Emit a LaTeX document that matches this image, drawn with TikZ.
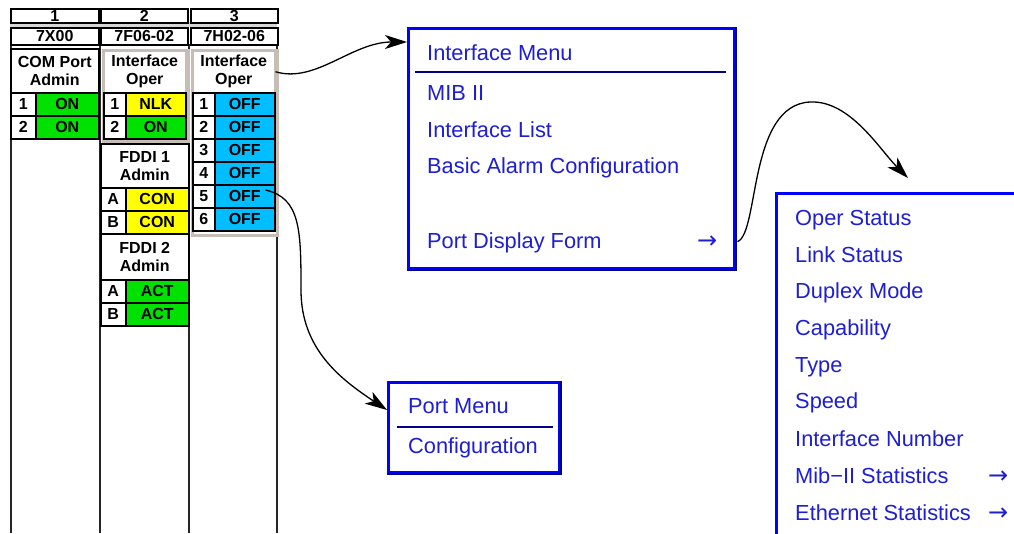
\documentclass[tikz,border=0pt]{standalone}
\usepackage{fontspec}
\setmainfont{Liberation Sans}
\newfontfamily\arrowfont{DejaVu Sans}
\usetikzlibrary{arrows.meta,calc}
\definecolor{onGreen}{RGB}{0,225,0}
\definecolor{lkYellow}{RGB}{255,255,0}
\definecolor{offBlue}{RGB}{0,190,255}
\definecolor{bevel}{RGB}{198,190,182}
\definecolor{menuBlue}{RGB}{0,0,255}
\definecolor{menuNavy}{RGB}{0,0,140}
\definecolor{menuText}{RGB}{30,30,210}
\definecolor{hdrGray}{RGB}{215,215,215}

% one port row: name, x, y, number width, status width, number, status, fill
\newcommand\prow[8]{%
  \node[tbl, minimum width=#4pt, minimum height=23pt] (#1n) at (#2,#3) {#6};
  \node[tbl, fill=#8, minimum width=#5pt, minimum height=23pt] (#1s) at ({#2+#4},#3) {#7};
}

\begin{document}
\begin{tikzpicture}[x=1pt,y=-1pt,
  tbl/.style={draw=black, line width=1.5pt, fill=white, inner sep=0pt, anchor=north west,
    align=center, font=\fontsize{16}{18}\selectfont\bfseries},
  bevelbox/.style={draw=bevel, line width=3pt, fill=white, inner sep=0pt, anchor=north west},
  menubox/.style={draw=menuBlue, line width=3pt, fill=white, inner sep=0pt, anchor=north west},
  mitem/.style={anchor=base west, inner sep=0pt, text=menuText, font=\fontsize{21.8}{24}\selectfont},
  marrow/.style={anchor=base west, inner sep=0pt, text=menuText, font=\arrowfont\fontsize{24}{26}\selectfont},
  conn/.style={line width=1.3pt, -{Stealth[length=22pt,width=14pt,inset=6pt]}},
  colline/.style={line width=1.5pt, draw=black!85},
]
\useasboundingbox (0,0) rectangle (1014,533);
\clip (0,0) rectangle (1014,533);
\fill[white] (0,0) rectangle (1014,533);

% ---- status table ----
\fill[hdrGray] (10,22) rectangle (277,27);
\draw[colline] (11,44) -- (11,533);
\draw[colline] (100,44) -- (100,533);
\draw[colline] (189,44) -- (189,533);
\draw[colline] (277,44) -- (277,533);

\node[tbl, minimum width=88pt, minimum height=14pt] (h1) at (10,8) {1};
\node[tbl, minimum width=87pt, minimum height=14pt] (h2) at (100,8) {2};
\node[tbl, minimum width=87pt, minimum height=14pt] (h3) at (190,8) {3};
\node[tbl, minimum width=88pt, minimum height=17pt] (m1) at (10,27) {7X00};
\node[tbl, minimum width=87pt, minimum height=17pt] (m2) at (100,27) {7F06-02};
\node[tbl, minimum width=87pt, minimum height=17pt] (m3) at (190,27) {7H02-06};

% slot 1
\node[tbl, minimum width=88pt, minimum height=44pt] (t1) at (10,48) {COM Port\\Admin};
\prow{a1}{10}{92}{25}{63}{1}{ON}{onGreen}
\prow{a2}{10}{115}{25}{63}{2}{ON}{onGreen}

% slot 2
\node[bevelbox, minimum width=85pt, minimum height=91pt] (b2) at (101.5,48.5) {};
\node[tbl, draw=bevel, minimum width=82pt, minimum height=42pt] (t2) at (103,50) {Interface\\Oper};
\prow{b21}{103}{92}{22}{60}{1}{NLK}{lkYellow}
\prow{b22}{103}{115}{22}{60}{2}{ON}{onGreen}
\node[tbl, minimum width=88pt, minimum height=44pt] (f1) at (100,143) {FDDI 1\\Admin};
\prow{f1a}{100}{187}{25}{63}{A}{CON}{lkYellow}
\prow{f1b}{100}{210}{25}{63}{B}{CON}{lkYellow}
\node[tbl, minimum width=88pt, minimum height=46pt] (f2) at (100,233) {FDDI 2\\Admin};
\prow{f2a}{100}{279}{25}{63}{A}{ACT}{onGreen}
\prow{f2b}{100}{302}{25}{63}{B}{ACT}{onGreen}

% slot 3
\node[bevelbox, minimum width=85pt, minimum height=185pt] (b3) at (190.5,48.5) {};
\node[tbl, draw=bevel, minimum width=82pt, minimum height=42pt] (t3) at (192,50) {Interface\\Oper};
\prow{c1}{192}{92}{22}{60}{1}{OFF}{offBlue}
\prow{c2}{192}{115}{22}{60}{2}{OFF}{offBlue}
\prow{c3}{192}{138}{22}{60}{3}{OFF}{offBlue}
\prow{c4}{192}{161}{22}{60}{4}{OFF}{offBlue}
\prow{c5}{192}{184}{22}{60}{5}{OFF}{offBlue}
\prow{c6}{192}{207}{22}{60}{6}{OFF}{offBlue}

% ---- interface menu ----
\node[menubox, minimum width=326pt, minimum height=240pt] (imenu) at (407,27) {};
\draw[menuNavy, line width=2pt] (imenu.north east) -- (imenu.south east) -- (imenu.south west);
\draw[menuNavy, line width=2.4pt] ([xshift=8pt,yshift=-45pt]imenu.north west) -- ([xshift=-10pt,yshift=-45pt]imenu.north east);
\node[mitem] (iTitle) at (427,60) {Interface Menu};
\node[mitem] (iMib) at (427,100) {MIB II};
\node[mitem] (iList) at (427,137) {Interface List};
\node[mitem] (iAlarm) at (427,173) {Basic Alarm Configuration};
\node[mitem] (iPort) at (427,248) {Port Display Form};
\node[marrow] (iPortArr) at (697,248) {→};

% ---- port menu ----
\node[menubox, minimum width=171pt, minimum height=90pt] (pmenu) at (387,381) {};
\draw[menuNavy, line width=2pt] (pmenu.north east) -- (pmenu.south east) -- (pmenu.south west);
\draw[menuNavy, line width=2.4pt] ([xshift=10pt,yshift=-46pt]pmenu.north west) -- ([xshift=-8pt,yshift=-46pt]pmenu.north east);
\node[mitem] (pTitle) at (408,413) {Port Menu};
\node[mitem] (pConf) at (408,453) {Configuration};

% ---- port display form submenu ----
\node[menubox, minimum width=300pt, minimum height=400pt] (smenu) at (775,192) {};
\node[mitem] (sOper) at (795,225) {Oper Status};
\node[mitem] (sLink) at (795,262) {Link Status};
\node[mitem] (sDup) at (795,298) {Duplex Mode};
\node[mitem] (sCap) at (795,335) {Capability};
\node[mitem] (sType) at (795,372) {Type};
\node[mitem] (sSpeed) at (795,408) {Speed};
\node[mitem] (sNum) at (795,446) {Interface Number};
\node[mitem] (sMib) at (795,483) {Mib−II Statistics};
\node[marrow] (sMibArr) at (988,483) {→};
\node[mitem] (sEth) at (795,520) {Ethernet Statistics};
\node[marrow] (sEthArr) at (988,520) {→};

% ---- connectors ----
\coordinate (bend) at (301,290);
\coordinate (peak) at (810,102);
\draw[conn] (t3.east) .. controls +(40,12) and +(-55,0) .. ([yshift=-15pt]imenu.north west);
\draw[line width=1.3pt] ([xshift=-10pt,yshift=-6pt]c5s.north east) .. controls +(35,8) and +(0,-60) .. (bend);
\draw[conn] (bend) .. controls +(0,60) and +(-45,-30) .. ([yshift=-29pt]pmenu.north west);
\draw[line width=1.3pt] ([xshift=20pt]iPortArr.east) .. controls +(22,-9) and +(-62,3) .. (peak);
\draw[conn] (peak) .. controls +(40,-2) and +(-28,-28) .. ([xshift=133pt,yshift=14pt]smenu.north west);
\end{tikzpicture}
\end{document}
